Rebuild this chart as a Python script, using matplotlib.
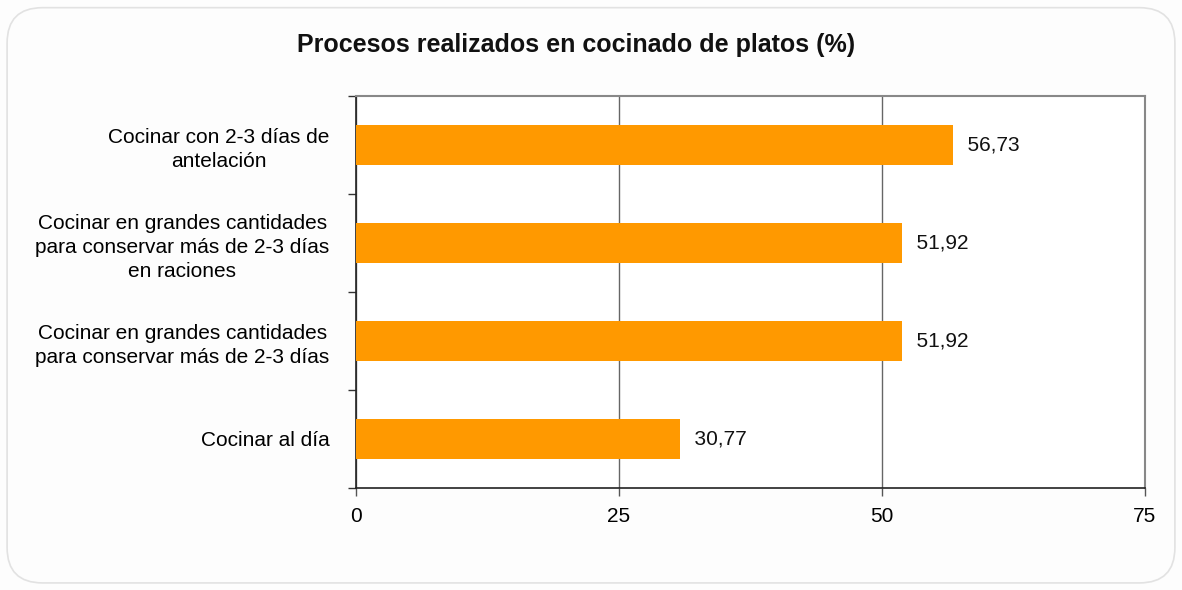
import matplotlib
matplotlib.use("Agg")
import matplotlib.pyplot as plt
from matplotlib.patches import FancyBboxPatch
import numpy as np

plt.rcParams['font.family'] = ['Liberation Sans', 'DejaVu Sans']

# data (bottom to top)
categories = [
    "Cocinar al día",
    "Cocinar en grandes cantidades\npara conservar más de 2-3 días",
    "Cocinar en grandes cantidades\npara conservar más de 2-3 días\nen raciones",
    "Cocinar con 2-3 días de\nantelación",
]
values = [30.77, 51.92, 51.92, 56.73]
value_labels = ["30,77", "51,92", "51,92", "56,73"]
x_ticks = [0, 25, 50, 75]

fig = plt.figure(figsize=(11.82, 5.9), dpi=100)
fig.patch.set_facecolor("#fdfdfd")

# rounded frame around the chart
frame = FancyBboxPatch((0.006, 0.012), 0.988, 0.975, transform=fig.transFigure,
                       boxstyle="round,pad=0,rounding_size=0.03",
                       facecolor="#fdfdfd", edgecolor="#e2e2e2", linewidth=1.2,
                       mutation_aspect=2.0, zorder=-1)
fig.patches.append(frame)

ax = fig.add_axes([356 / 1182, 1 - 488 / 590, (1145 - 356) / 1182, (488 - 96) / 590])
ax.set_facecolor("white")

y = np.arange(len(categories))
ax.barh(y, values, height=0.41, color="#ff9900", zorder=3)

for yi, v, lab in zip(y, values, value_labels):
    ax.text(v + 0.3, yi, "  " + lab, va="center", ha="left", fontsize=15, color="#111111")

ax.set_xlim(0, 75)
ax.set_ylim(-0.5, len(categories) - 0.5)
ax.set_xticks(x_ticks)
ax.set_xticklabels([str(t) for t in x_ticks], fontsize=15)
ax.set_yticks(y)
ax.set_yticklabels(categories, fontsize=15, multialignment="center", linespacing=1.35)
ax.set_yticks(np.arange(-0.5, len(categories), 1), minor=True)
ax.tick_params(axis="y", which="major", length=0, pad=19)
ax.tick_params(axis="y", which="minor", length=6, width=1, color="#333333")
ax.tick_params(axis="x", which="major", length=6, width=1, color="#555555", pad=8)

ax.xaxis.grid(True, color="#666666", linewidth=1.0, zorder=1)
ax.set_axisbelow(True)

for side in ["top", "right"]:
    ax.spines[side].set_color("#888888")
    ax.spines[side].set_linewidth(1.5)
ax.spines["left"].set_color("#222222")
ax.spines["bottom"].set_color("#222222")
ax.spines["left"].set_linewidth(1.2)
ax.spines["bottom"].set_linewidth(1.2)

fig.text(0.487, 1 - 45 / 590, "Procesos realizados en cocinado de platos (%)",
         ha="center", va="center", fontsize=18, fontweight="bold", color="#111111")

fig.savefig("out.png", dpi=100, facecolor=fig.get_facecolor())
